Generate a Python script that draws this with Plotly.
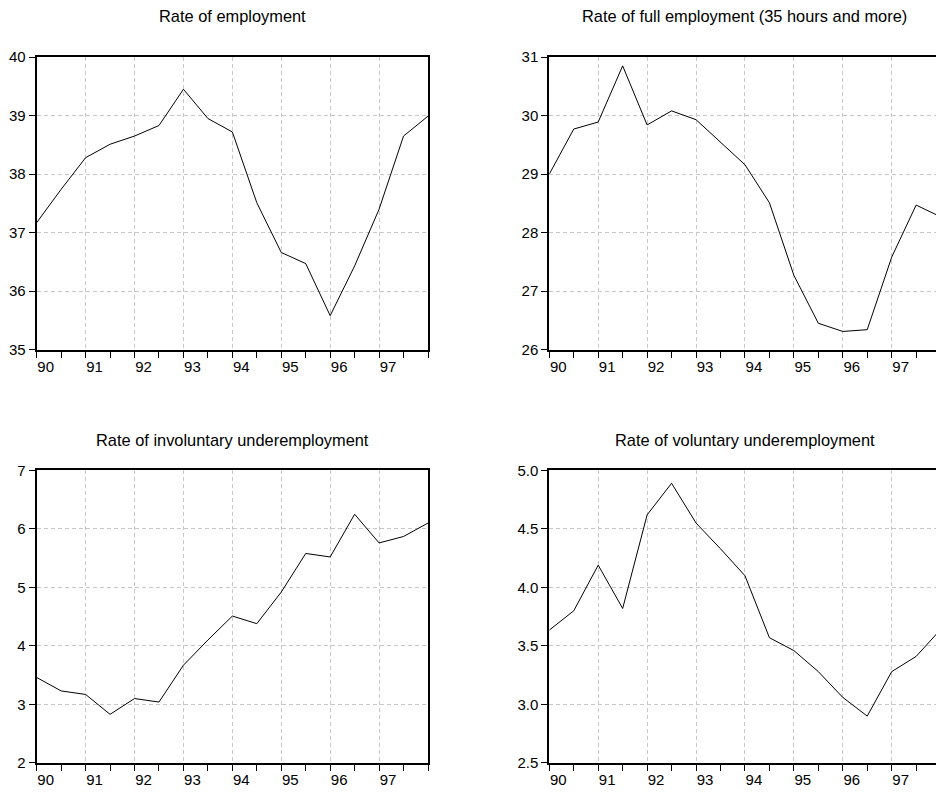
import plotly.graph_objects as go

# Semi-annual observations, 1990 H1 through 1998 H1
periods = [90 + 0.5 * i for i in range(17)]

employment = [37.17, 37.74, 38.28, 38.51, 38.65, 38.83, 39.45, 38.95, 38.72,
              37.51, 36.66, 36.47, 35.58, 36.43, 37.40, 38.65, 38.99]
full_employment = [29.00, 29.77, 29.89, 30.85, 29.84, 30.08, 29.93, 29.54, 29.16,
                   28.51, 27.27, 26.45, 26.31, 26.34, 27.58, 28.47, 28.27]
involuntary = [3.46, 3.23, 3.17, 2.83, 3.10, 3.04, 3.67, 4.10, 4.51,
               4.38, 4.92, 5.58, 5.52, 6.25, 5.76, 5.87, 6.10]
voluntary = [3.635, 3.80, 4.19, 3.82, 4.62, 4.89, 4.55, 4.33, 4.10,
             3.57, 3.46, 3.28, 3.06, 2.90, 3.28, 3.41, 3.64]

titles = ["Rate of employment",
          "Rate of full employment (35 hours and more)",
          "Rate of involuntary underemployment",
          "Rate of voluntary underemployment"]
year_ticks = [90, 91, 92, 93, 94, 95, 96, 97]
year_labels = ["90", "91", "92", "93", "94", "95", "96", "97"]

W, H = 936, 793
FONT = "Liberation Sans, Arial, sans-serif"


def vy(y):
    # vertical page position -> figure pixel row
    return y / 0.9802 - 8


fig = go.Figure()

# panel boxes in pixels: (left, right, top, bottom, title row)
boxes = [(36.7, 428.0, 56, 349, 15), (549.3, 936.0, 56, 349, 15),
         (36.7, 428.0, 470, 763, 440), (549.3, 936.0, 470, 763, 440)]
series = [employment, full_employment, involuntary, voluntary]
yranges = [(35, 40, 1, None), (26, 31, 1, None), (2, 7, 1, None), (2.5, 5.0, 0.5, ".1f")]
px_per_year = (428.0 - 36.7) / 8

for i, (box, vals, yr, title) in enumerate(zip(boxes, series, yranges, titles)):
    n = i + 1
    xa = "x" if n == 1 else f"x{n}"
    ya = "y" if n == 1 else f"y{n}"
    l, r, t, b, ty = box
    t, b, ty = vy(t), vy(b), vy(ty)
    x_end = 90 + (r - l) / px_per_year
    fig.add_trace(go.Scatter(x=periods, y=vals, mode="lines",
                             line=dict(color="black", width=1),
                             xaxis=xa, yaxis=ya, showlegend=False,
                             hoverinfo="x+y"))
    left_panel = (i % 2 == 0)
    fig.update_layout(**{
        ("xaxis" if n == 1 else f"xaxis{n}"): dict(
            domain=[l / W, r / W], anchor=ya, range=[90, x_end],
            tickmode="array", tickvals=year_ticks, ticktext=year_labels,
            ticks="outside", ticklen=6, tickwidth=1, tickcolor="black",
            ticklabelshift=9, ticklabelstandoff=-4,
            minor=dict(dtick=0.5, tick0=90, ticks="outside", ticklen=6,
                       tickwidth=1, tickcolor="black", showgrid=False),
            showgrid=True, gridcolor="#c8c8c8", gridwidth=1, griddash="4px,3px",
            showline=True, linecolor="black", linewidth=2, mirror=True,
            zeroline=False, fixedrange=True,
            tickfont=dict(family=FONT, size=15, color="black"),
        ),
        ("yaxis" if n == 1 else f"yaxis{n}"): dict(
            domain=[1 - b / H, 1 - t / H], anchor=xa,
            range=[yr[0], yr[1]], dtick=yr[2], tick0=yr[0], tickformat=yr[3],
            ticks="outside", ticklen=6, tickwidth=1, tickcolor="black",
            showgrid=True, gridcolor="#c8c8c8", gridwidth=1, griddash="4px,3px",
            showline=True, linecolor="black", linewidth=2,
            mirror=True if left_panel else False,
            zeroline=False, fixedrange=True,
            tickfont=dict(family=FONT, size=15, color="black"),
        ),
    })
    full_r = l + 8 * px_per_year
    fig.add_annotation(text=title, xref="paper", yref="paper",
                       x=((l + full_r) / 2) / W, y=1 - ty / H,
                       xanchor="center", yanchor="middle", showarrow=False,
                       font=dict(family=FONT, size=16.4, color="black"))

fig.update_layout(width=W, height=H, margin=dict(l=0, r=0, t=0, b=0),
                  paper_bgcolor="white", plot_bgcolor="white")

fig.write_html("out.html")
